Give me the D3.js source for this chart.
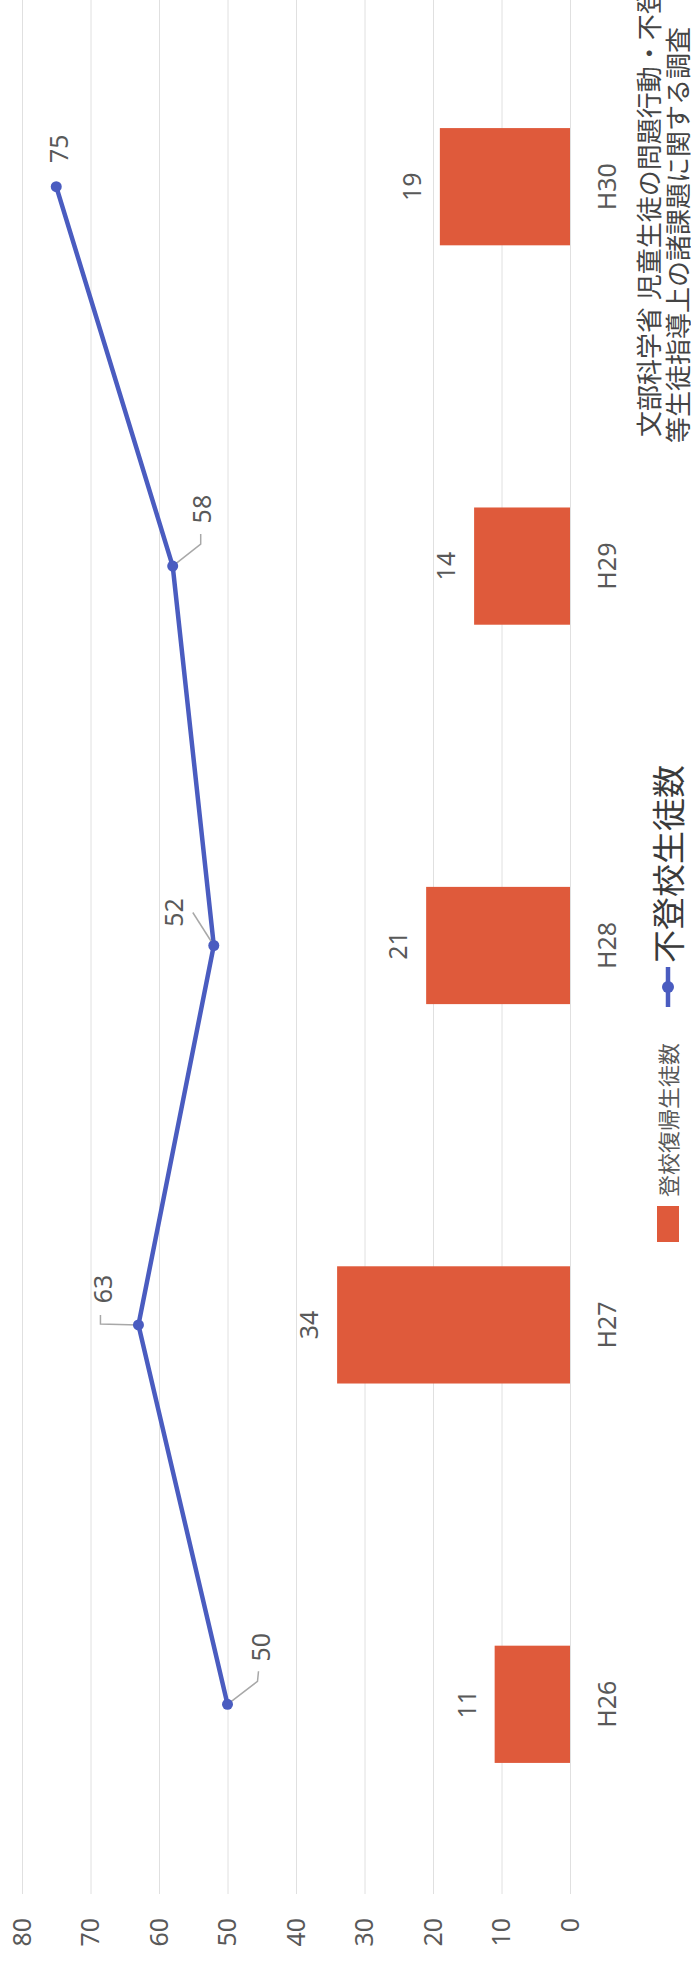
<!DOCTYPE html>
<html><head><meta charset="utf-8">
<script src="https://cdn.jsdelivr.net/npm/d3@7"></script>
<style>html,body{margin:0;padding:0;background:#fff;overflow:hidden} svg{display:block}</style>
</head><body>
<svg id="c" width="691" height="1969"></svg>
<script>
const categories = ["H26", "H27", "H28", "H29", "H30"];
const returnedStudents = [11, 34, 21, 14, 19];   // 登校復帰生徒数 (bars)
const absentStudents = [50, 63, 52, 58, 75];     // 不登校生徒数 (line)
const valueTicks = [0, 10, 20, 30, 40, 50, 60, 70, 80];
const seriesNames = ["登校復帰生徒数", "不登校生徒数"];
const sourceLines = ["文部科学省 児童生徒の問題行動・不登校", "等生徒指導上の諸課題に関する調査"];

// label placement (layout, relative to each line point)
const lineLabelLayout = [
  {dx: 57, dy: 42, leader: [[23, 30], [33, 31]]},
  {dx: 36, dy: -26, leader: [[1, -38], [10, -38]]},
  {dx: 33, dy: -31, leader: [[33, -21]]},
  {dx: 57, dy: 38, leader: [[22, 28], [32, 28]]},
  {dx: 38, dy: 12, leader: null}
];

const W = 691, H = 1969;
const RED = "#df5a3b", BLUE = "#4a5cc0", TXT = "#595959";
const FONT = "'Noto Sans','Noto Sans CJK JP',sans-serif";
const svg = d3.select("#c");
svg.append("rect").attr("width", W).attr("height", H).attr("fill", "#fff");
// upright chart drawn in a rotated group: (u,v) -> page (v, H-u)
const g = svg.append("g").attr("transform", `translate(0,${H}) rotate(-90)`)
  .style("font-family", FONT);

const x = d3.scaleBand().domain(categories).range([75, 1972]).padding(0);
const y = d3.scaleLinear().domain([0, 80]).range([570, 22]);
const barW = x.bandwidth() * 0.309;

// value axis with gridlines
const yAxis = g.append("g").attr("transform", "translate(75,0)")
  .call(d3.axisLeft(y).tickValues(valueTicks).tickSize(-(1972 - 75)).tickPadding(24));
yAxis.select(".domain").remove();
yAxis.selectAll(".tick line").attr("stroke", "#e0e0e0").attr("stroke-width", 1);
yAxis.selectAll(".tick text").attr("fill", TXT).style("font-size", "25px").style("font-family", FONT);

// category axis
const xAxis = g.append("g").attr("transform", "translate(0,597)")
  .call(d3.axisBottom(x).tickSize(0).tickPadding(0));
xAxis.select(".domain").remove();
xAxis.selectAll(".tick text").attr("fill", TXT).style("font-size", "25px").style("font-family", FONT)
  .attr("dy", "0.74em");

// bars
g.selectAll("rect.bar").data(returnedStudents).join("rect").attr("class", "bar")
  .attr("x", (d, i) => x(categories[i]) + x.bandwidth() / 2 - barW / 2)
  .attr("width", barW)
  .attr("y", d => y(d))
  .attr("height", d => y(0) - y(d))
  .attr("fill", RED);

g.selectAll("text.barlab").data(returnedStudents).join("text").attr("class", "barlab")
  .attr("x", (d, i) => x(categories[i]) + x.bandwidth() / 2)
  .attr("y", d => y(d) - 19)
  .attr("text-anchor", "middle").attr("fill", TXT).style("font-size", "25px")
  .text(d => d);

// line
const pts = absentStudents.map((d, i) => [x(categories[i]) + x.bandwidth() / 2, y(d)]);
g.append("path").datum(pts)
  .attr("d", d3.line())
  .attr("fill", "none").attr("stroke", BLUE).attr("stroke-width", 4.5).attr("stroke-linejoin", "round");

// leader lines
pts.forEach((p, i) => {
  const L = lineLabelLayout[i];
  if (L.leader) {
    const path = [p].concat(L.leader.map(q => [p[0] + q[0], p[1] + q[1]]));
    g.append("path").attr("d", d3.line()(path)).attr("fill", "none")
      .attr("stroke", "#a8a8a8").attr("stroke-width", 1.5);
  }
});
g.selectAll("circle.pt").data(pts).join("circle").attr("class", "pt")
  .attr("cx", d => d[0]).attr("cy", d => d[1]).attr("r", 5.5).attr("fill", BLUE);

g.selectAll("text.linelab").data(absentStudents).join("text").attr("class", "linelab")
  .attr("x", (d, i) => pts[i][0] + lineLabelLayout[i].dx)
  .attr("y", (d, i) => pts[i][1] + lineLabelLayout[i].dy)
  .attr("text-anchor", "middle").attr("fill", TXT).style("font-size", "25px")
  .text(d => d);

// legend
const lg = g.append("g");
lg.append("rect").attr("x", 727).attr("y", 657).attr("width", 36).attr("height", 22).attr("fill", RED);
lg.append("text").attr("x", 772).attr("y", 677).attr("fill", TXT).style("font-size", "22px")
  .text(seriesNames[0]);
lg.append("line").attr("x1", 962).attr("x2", 1002).attr("y1", 668).attr("y2", 668)
  .attr("stroke", BLUE).attr("stroke-width", 4.5);
lg.append("circle").attr("cx", 982).attr("cy", 668).attr("r", 6).attr("fill", BLUE);
lg.append("text").attr("x", 1006).attr("y", 681).attr("fill", "#3a3a3a").style("font-size", "33px")
  .text(seriesNames[1]);

// source note
g.selectAll("text.src").data(sourceLines).join("text").attr("class", "src")
  .attr("x", (d, i) => i === 0 ? 1532 : 1526)
  .attr("y", (d, i) => i === 0 ? 659 : 688)
  .attr("fill", "#444").style("font-size", "26px")
  .text(d => d);
</script>
</body></html>
